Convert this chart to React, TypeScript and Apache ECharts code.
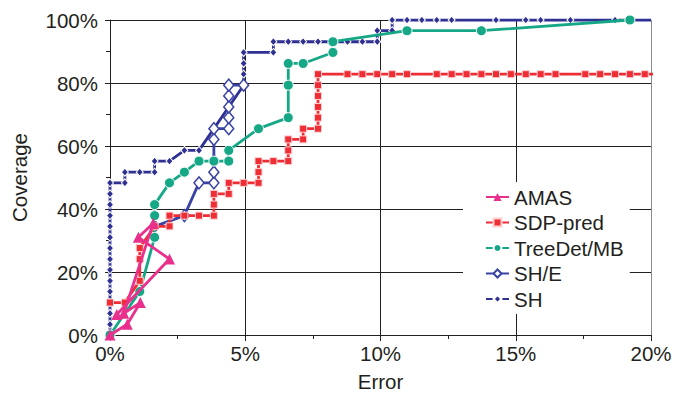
import React, { useEffect, useRef } from "react";
import * as echarts from "echarts";

// Error (%) and coverage (%) per series
const amasX = [0, 0.64, 1.12, 0.51, 1.6, 1.05, 2.2, 0.25];
const amasY = [0, 3.4, 10.3, 6.9, 35.5, 31.0, 24.1, 6.5];

const sdpX = [0, 0.55, 1.1, 1.1, 1.1, 1.65, 2.2, 2.2, 2.75, 3.29, 3.84, 3.84, 3.84, 4.39, 4.39, 4.94, 5.49, 5.49, 5.49, 6.04, 6.59, 6.59, 6.59, 7.14, 7.14, 7.69, 7.69, 7.69, 7.69, 7.69, 7.69, 8.78, 9.33, 9.88, 10.43, 10.98, 12.08, 12.63, 13.18, 13.73, 14.27, 14.82, 15.37, 15.92, 16.47, 17.57, 18.12, 18.67, 19.22, 19.77, 20.2];
const sdpY = [10.3, 10.3, 17.2, 24.1, 27.6, 34.5, 34.5, 37.9, 37.9, 37.9, 37.9, 41.4, 44.8, 44.8, 48.3, 48.3, 48.3, 51.7, 55.2, 55.2, 55.2, 58.6, 62.1, 62.1, 65.5, 65.5, 69.0, 72.4, 75.9, 79.3, 82.8, 82.8, 82.8, 82.8, 82.8, 82.8, 82.8, 82.8, 82.8, 82.8, 82.8, 82.8, 82.8, 82.8, 82.8, 82.8, 82.8, 82.8, 82.8, 82.8, 82.8];

const treeX = [0, 1.1, 1.65, 1.65, 1.65, 2.2, 2.75, 3.29, 3.84, 4.39, 4.39, 5.49, 6.59, 6.59, 6.59, 7.14, 8.24, 8.24, 10.98, 13.73, 19.22];
const treeY = [0, 13.8, 31.0, 37.9, 41.4, 48.3, 51.7, 55.2, 55.2, 55.2, 58.6, 65.5, 69.0, 79.3, 86.2, 86.2, 89.7, 93.1, 96.6, 96.6, 100];

const sheX = [1.65, 2.75, 3.29, 3.84, 3.84, 3.84, 3.84, 3.84, 4.39, 4.39, 4.39, 4.39, 4.39, 4.94];
const sheY = [34.5, 37.9, 48.3, 48.3, 51.7, 55.2, 62.1, 65.5, 65.5, 69.0, 72.4, 75.9, 79.3, 79.3];

const shX = [0, 0, 0, 0, 0, 0, 0, 0, 0, 0, 0, 0, 0, 0, 0, 0.55, 0.55, 1.1, 1.65, 1.65, 2.2, 2.75, 3.29, 4.94, 4.94, 4.94, 4.94, 6.04, 6.04, 6.59, 7.14, 7.69, 8.24, 8.78, 9.33, 9.88, 9.88, 10.43, 10.43, 10.98, 11.53, 12.08, 12.63, 14.27, 15.37, 15.92, 17.02, 18.67, 20];
const shY = [0, 3.4, 6.9, 10.3, 13.8, 17.2, 20.7, 24.1, 27.6, 31.0, 34.5, 37.9, 41.4, 44.8, 48.3, 48.3, 51.7, 51.7, 51.7, 55.2, 55.2, 58.6, 58.6, 79.3, 82.8, 86.2, 89.7, 89.7, 93.1, 93.1, 93.1, 93.1, 93.1, 93.1, 93.1, 93.1, 96.6, 96.6, 100, 100, 100, 100, 100, 100, 100, 100, 100, 100, 100];

const seriesNames = ["AMAS", "SDP-pred", "TreeDet/MB", "SH/E", "SH"];

const zip = (xs: number[], ys: number[]) => xs.map((x, i) => [x, ys[i]]);

const FONT = "'Liberation Sans', Arial, Helvetica, sans-serif";
const INK = "#231f20";

export default function App() {
  const ref = useRef<HTMLDivElement>(null);
  useEffect(() => {
    const chart = echarts.init(ref.current!, null, { renderer: "svg" });
    const sdpData: any[] = zip(sdpX, sdpY);
    sdpData[sdpData.length - 1] = { value: sdpData[sdpData.length - 1], symbol: "none" };
    const shData: any[] = zip(shX, shY);
    shData[shData.length - 1] = { value: shData[shData.length - 1], symbol: "none" };
    chart.setOption({
      animation: false,
      textStyle: { fontFamily: FONT },
      grid: { left: 110, right: 27, top: 20, bottom: 60, containLabel: false },
      legend: {
        orient: "vertical",
        left: 463,
        top: 182,
        padding: [4, 6, 4, 22],
        backgroundColor: "#ffffff",
        itemWidth: 23,
        itemHeight: 10,
        itemGap: 3.5,
        textStyle: { fontSize: 20.5, lineHeight: 22, color: INK, fontFamily: FONT },
        data: seriesNames,
      },
      xAxis: {
        type: "value",
        min: 0,
        max: 20,
        interval: 5,
        name: "Error",
        nameLocation: "middle",
        nameGap: 36,
        nameTextStyle: { fontSize: 20.5, color: INK, fontFamily: FONT },
        axisLine: { show: true, lineStyle: { color: INK, width: 1 } },
        axisTick: { show: true, length: 6, lineStyle: { color: INK } },
        minorTick: { show: true, splitNumber: 2, length: 4, lineStyle: { color: INK } },
        axisLabel: { formatter: "{value}%", fontSize: 20.5, color: INK, margin: 8, fontFamily: FONT },
        splitLine: { show: true, lineStyle: { color: [INK, INK, INK, INK, "#8a8a8a"], width: 1 } },
      },
      yAxis: {
        type: "value",
        min: 0,
        max: 100,
        interval: 20,
        name: "Coverage",
        nameLocation: "middle",
        nameGap: 80,
        nameRotate: 90,
        nameTextStyle: { fontSize: 20.5, color: INK, fontFamily: FONT },
        axisLine: { show: true, lineStyle: { color: INK, width: 1 } },
        axisTick: { show: true, length: 5, lineStyle: { color: INK } },
        minorTick: { show: true, splitNumber: 2, length: 4, lineStyle: { color: INK } },
        axisLabel: { formatter: "{value}%", fontSize: 20.5, color: INK, margin: 12, fontFamily: FONT },
        splitLine: { show: true, lineStyle: { color: INK, width: 1 } },
      },
      series: [
        {
          name: "SH",
          type: "line",
          z: 2,
          data: shData,
          symbol: "diamond",
          symbolSize: [7, 8],
          lineStyle: { color: "#2e3192", width: 2.8 },
          itemStyle: { color: "#2e3192", borderColor: "#ffffff", borderWidth: 1 },
        },
        {
          name: "SH/E",
          type: "line",
          z: 3,
          data: zip(sheX, sheY),
          symbol: "diamond",
          symbolSize: [10, 12],
          lineStyle: { color: "#3a43a3", width: 2.8 },
          itemStyle: { color: "#ffffff", borderColor: "#3a43a3", borderWidth: 1.5 },
        },
        {
          name: "TreeDet/MB",
          type: "line",
          z: 4,
          data: zip(treeX, treeY),
          symbol: "circle",
          symbolSize: 10,
          lineStyle: { color: "#16a886", width: 2.8 },
          itemStyle: { color: "#16a886", borderColor: "#ffffff", borderWidth: 1 },
        },
        {
          name: "SDP-pred",
          type: "line",
          z: 5,
          clip: false,
          data: sdpData,
          symbol: "rect",
          symbolSize: 7,
          lineStyle: { color: "#ee2d35", width: 2.8 },
          itemStyle: { color: "#ee2d35", borderColor: "#ffd0d3", borderWidth: 1 },
        },
        {
          name: "AMAS",
          type: "line",
          z: 6,
          data: zip(amasX, amasY),
          symbol: "triangle",
          symbolSize: 11,
          lineStyle: { color: "#e9308c", width: 2.8 },
          itemStyle: { color: "#e9308c", borderColor: "#e9308c", borderWidth: 0 },
        },
      ],
    });
    return () => chart.dispose();
  }, []);
  return <div ref={ref} style={{ position: "absolute", left: 0, top: 0, width: 678, height: 397 }} />;
}
